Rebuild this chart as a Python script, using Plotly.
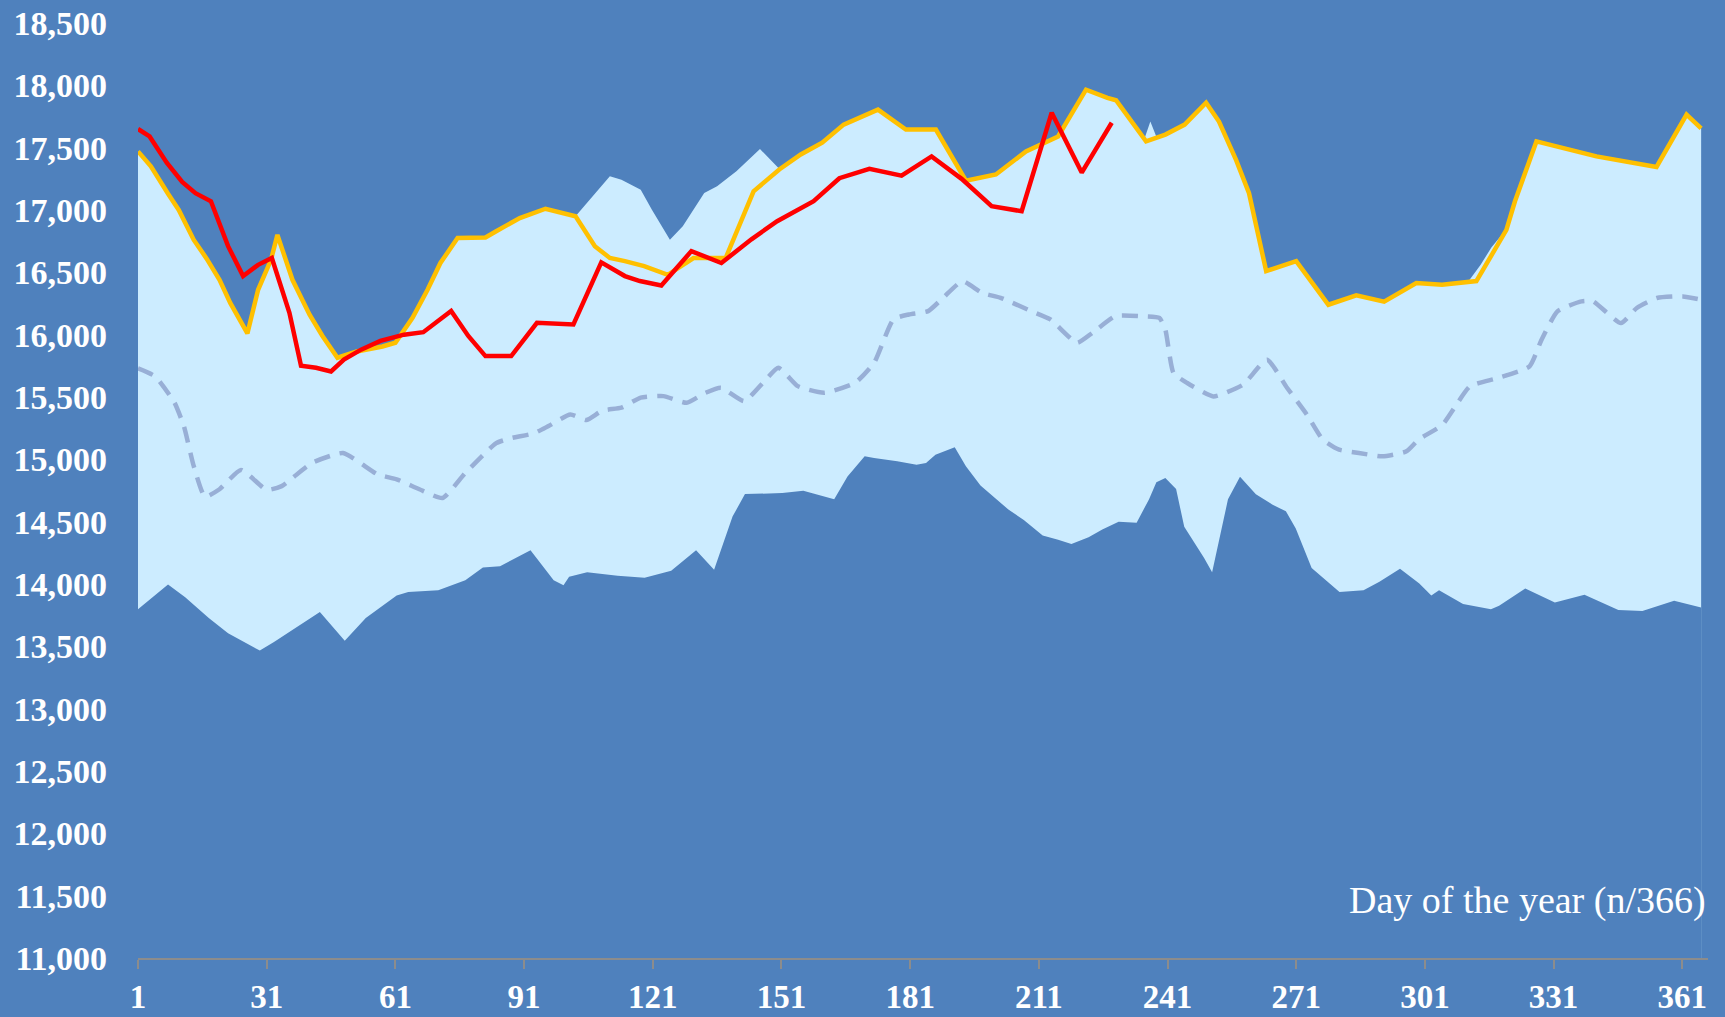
import plotly.graph_objects as go

BG = "#4F81BD"
LIGHT = "#CCECFF"

# highest of previous years (top of light band)
max_days = [1, 4, 8, 10.5, 14, 17, 20, 22.5, 26.5, 29, 32, 33.5, 37, 41, 44, 47.5, 52, 58, 61, 65,
            68.5, 71.5, 75.5, 82, 84.5, 90, 96, 103, 111, 113.7, 118.2, 120.8, 125, 128, 133, 136,
            140.5, 146, 150.3, 155.5, 160.5, 165.5, 173.5, 180, 187, 194, 201, 208, 215.5, 222, 227,
            229, 235.5, 237, 238.5, 240.5, 245, 250, 253, 257, 260, 264, 271, 278.5, 285, 291.5, 299,
            305, 311, 314, 316.5, 320, 322, 327, 341, 355, 362, 365.4]
max_vals = [17470, 17350, 17130, 17000, 16760, 16610, 16440, 16255, 16010, 16360, 16600, 16800, 16440,
            16160, 15990, 15815, 15865, 15905, 15935, 16135, 16360, 16575, 16775, 16780, 16830, 16935,
            17010, 16950, 17270, 17243, 17163, 17003, 16762, 16869, 17136, 17190, 17310, 17489, 17337,
            17445, 17540, 17685, 17805, 17645, 17645, 17235, 17285, 17470, 17590, 17965, 17900, 17880,
            17560, 17710, 17580, 17605, 17685, 17860, 17710, 17400, 17135, 16510, 16590, 16240, 16315,
            16265, 16415, 16400, 16420, 16560, 16700, 16845, 17070, 17550, 17430, 17345, 17765, 17655]

# lowest of previous years (bottom of light band)
min_days = [1, 4, 8, 12, 17.5, 22, 29.4, 32.7, 38.9, 43.4, 49.2, 54.1, 61.3, 64, 71, 77.3, 81.4, 85.4,
            92.5, 97.9, 100.2, 101.5, 105.7, 112.8, 119.1, 125.3, 131.1, 135.3, 139.6, 142.5, 151.2,
            156.1, 163.3, 166.4, 170.4, 172.6, 178, 182.5, 184.7, 186.9, 191.4, 194, 197.4, 203.9,
            207.5, 211.9, 215.5, 218.6, 222.6, 225.8, 229.6, 233.8, 236.7, 238.4, 240.5, 242, 243,
            244.9, 249.5, 251.4, 255.1, 257.9, 261.6, 265.4, 268.6, 270.9, 274.6, 281.1, 286.7, 290.4,
            295.2, 299.7, 302.5, 304.3, 307.1, 309.9, 316.4, 318.3, 324.4, 331.3, 338.2, 346.1, 351.7,
            359.1, 365.4]
min_vals = [13797, 13880, 13996, 13894, 13728, 13604, 13466, 13535, 13673, 13775, 13544, 13728, 13907,
            13935, 13949, 14031, 14133, 14142, 14271, 14031, 13990, 14059, 14095, 14067, 14051, 14106,
            14271, 14114, 14541, 14721, 14729, 14748, 14680, 14863, 15024, 15010, 14984, 14957, 14970,
            15037, 15096, 14944, 14790, 14597, 14514, 14390, 14355, 14321, 14376, 14437, 14500, 14492,
            14680, 14817, 14850, 14800, 14762, 14459, 14211, 14095, 14679, 14860, 14720, 14638, 14583,
            14445, 14128, 13935, 13949, 14018, 14122, 14004, 13907, 13949, 13894, 13839, 13797, 13825,
            13963, 13852, 13913, 13792, 13783, 13866, 13811]

# average of previous years (dashed)
avg_days = [1, 5, 9.5, 11.7, 14, 16.6, 20, 25, 31, 34.5, 41.5, 48.8, 56.8, 61.3, 66.6, 72, 77.3, 84.5,
            88, 93.4, 96.7, 101.8, 105.5, 109.2, 113.7, 118.2, 123.5, 128.9, 133.3, 136.9, 142.3,
            146.7, 150.3, 154.8, 161, 168.2, 172.6, 177.1, 180.7, 185.2, 188.7, 193.2, 197.7, 202.1,
            209.2, 213.7, 219.9, 223.5, 228.9, 235.3, 239.1, 240.5, 242.4, 245.6, 251.7, 258.6, 264.2,
            268.9, 273.5, 277.2, 281, 285.6, 291.1, 296.7, 299.5, 305.1, 311.5, 318, 325.4, 328.2,
            331.9, 337.5, 340.2, 346.7, 350.4, 355.1, 361.1, 365.4]
avg_vals = [15730, 15665, 15455, 15265, 14945, 14700, 14760, 14915, 14755, 14785, 14970, 15050, 14880,
            14840, 14760, 14690, 14890, 15130, 15170, 15210, 15267, 15360, 15315, 15390, 15415, 15495,
            15507, 15454, 15534, 15574, 15467, 15614, 15734, 15587, 15534, 15614, 15774, 16122, 16162,
            16189, 16296, 16429, 16336, 16296, 16189, 16122, 15935, 16015, 16149, 16147, 16134, 16040,
            15693, 15612, 15505, 15599, 15799, 15572, 15358, 15158, 15077, 15051, 15024, 15064, 15158,
            15278, 15585, 15652, 15746, 15960, 16187, 16267, 16267, 16093, 16214, 16294, 16307, 16280]

# last year (orange)
prev_days = [1, 4, 8, 10.5, 14, 17, 20, 22.5, 26.5, 29, 32, 33.5, 37, 41, 44, 47.5, 52, 58, 61, 65,
             68.5, 71.5, 75.5, 82, 84.5, 90, 96, 103, 107.5, 111, 114.5, 119, 124.5, 130.5, 138,
             144.5, 150.5, 155.5, 160.5, 165.5, 173.5, 180, 187, 194, 201, 208, 215.5, 222, 227, 229,
             236, 240.5, 245, 250, 253, 257, 260, 264, 271, 278.5, 285, 291.5, 299, 305, 313, 320,
             322, 327, 341, 355, 362, 365.4]
prev_vals = [17470, 17350, 17130, 17000, 16760, 16610, 16440, 16255, 16010, 16360, 16600, 16800, 16440,
             16160, 15990, 15815, 15865, 15905, 15935, 16135, 16360, 16575, 16775, 16780, 16830, 16935,
             17010, 16950, 16710, 16615, 16590, 16550, 16480, 16615, 16615, 17150, 17325, 17445, 17540,
             17685, 17805, 17645, 17645, 17235, 17285, 17470, 17590, 17965, 17900, 17880, 17550, 17605,
             17685, 17860, 17710, 17400, 17135, 16510, 16590, 16240, 16315, 16265, 16415, 16400, 16430,
             16840, 17070, 17550, 17430, 17345, 17765, 17655]

# current year (red)
cur_days = [1, 3.7, 7.7, 11.3, 14.4, 18, 22, 25.5, 29, 32.2, 36.3, 39, 42.5, 46, 49, 53, 57.5, 63,
            67.5, 74, 78, 82, 88, 94, 102.5, 109, 114.5, 118, 123, 130, 137, 144, 150, 154, 158.5,
            164.5, 171.5, 179, 186, 193, 200, 207, 214, 221, 228]
cur_vals = [17650, 17590, 17380, 17225, 17135, 17070, 16710, 16470, 16560, 16615, 16175, 15750, 15735,
            15705, 15800, 15880, 15950, 16000, 16020, 16190, 15990, 15828, 15828, 16095, 16082, 16580,
            16470, 16430, 16395, 16670, 16575, 16765, 16910, 16990, 17070, 17255, 17330, 17275, 17430,
            17250, 17030, 16990, 17780, 17300, 17700]

x_ticks = list(range(1, 362, 30))
y_ticks = list(range(11000, 18501, 500))

fig = go.Figure()
# light band = area under max, then cover area under min with background
fig.add_trace(go.Scatter(x=max_days, y=max_vals, mode="lines", line=dict(width=0, color=LIGHT),
                         fill="tozeroy", fillcolor=LIGHT, hoverinfo="skip"))
fig.add_trace(go.Scatter(x=min_days, y=min_vals, mode="lines", line=dict(width=0, color=BG),
                         fill="tozeroy", fillcolor=BG, hoverinfo="skip"))
fig.add_trace(go.Scatter(x=avg_days, y=avg_vals, mode="lines",
                         line=dict(color="#98AFD6", width=4.5, dash="16px,10px", shape="spline", smoothing=0.5)))
fig.add_trace(go.Scatter(x=prev_days, y=prev_vals, mode="lines", line=dict(color="#FFC000", width=4.5)))
fig.add_trace(go.Scatter(x=cur_days, y=cur_vals, mode="lines", line=dict(color="#FF0000", width=4.5)))

fig.add_annotation(text="Day of the year (n/366)", xref="paper", yref="paper", x=1.0, y=0.062,
                   xanchor="right", yanchor="middle", showarrow=False,
                   font=dict(family="Liberation Serif", size=38, color="white"))

fig.update_layout(
    width=1725, height=1017,
    paper_bgcolor=BG, plot_bgcolor=BG,
    showlegend=False,
    margin=dict(l=138, r=17, t=23, b=59),
    font=dict(family="Liberation Serif", color="white"),
)
fig.update_xaxes(range=[1, 367], tickvals=x_ticks, ticks="outside", ticklen=9, tickwidth=1.5,
                 tickcolor="#8C8C8C", showline=True, linecolor="#8C8C8C", linewidth=1.5,
                 showgrid=False, zeroline=False, ticklabelstandoff=0, automargin=False,
                 tickfont=dict(family="Liberation Serif", size=33, color="white", weight="bold"))
fig.update_yaxes(range=[11000, 18500], tickvals=y_ticks, tickformat=",", ticks="",
                 showline=False, showgrid=False, zeroline=False, ticklabelstandoff=30, automargin=False,
                 tickfont=dict(family="Liberation Serif", size=34, color="white", weight="bold"))

fig.write_html("out.html", config={"displayModeBar": False},
               post_script="document.body.style.margin='0';document.body.style.overflow='hidden';"
                           "document.body.style.background='" + BG + "';")
